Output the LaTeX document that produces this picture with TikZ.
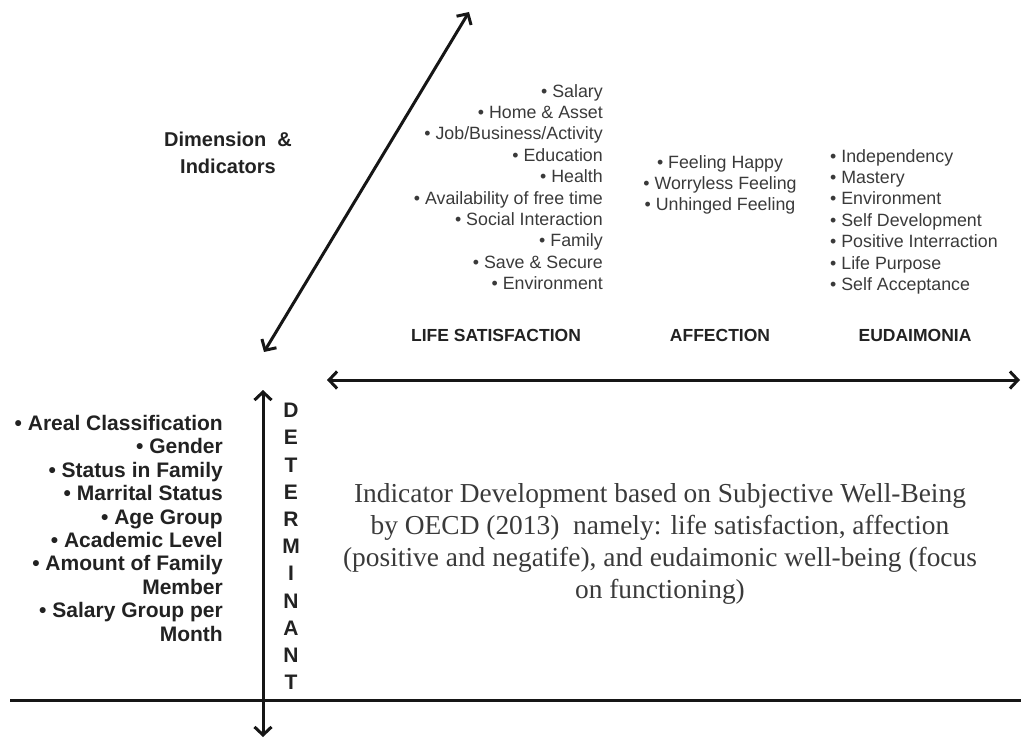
\documentclass[tikz,border=0pt]{standalone}
\usepackage{fontspec}
\setmainfont{Liberation Sans}
\newfontfamily\serifcap{Liberation Serif}
\usetikzlibrary{arrows.meta}
\definecolor{txt}{HTML}{3A3A3A}
\definecolor{bold}{HTML}{222222}
\definecolor{ink}{HTML}{161616}
\begin{document}
\begin{tikzpicture}[x=1pt,y=-1pt,
  axis/.style={draw=ink,line width=3pt,{Straight Barb[length=8pt,width=17pt]}-{Straight Barb[length=8pt,width=17pt]}},
  plainline/.style={draw=ink,line width=3pt},
  itemlist/.style={inner sep=0pt,text=txt,font=\fontsize{17.8}{21.4}\selectfont},
  boldlist/.style={inner sep=0pt,text=bold,font=\bfseries\fontsize{21}{23.4}\selectfont},
  heading/.style={inner sep=0pt,text=bold,font=\bfseries\fontsize{17.5}{20}\selectfont},
  bodytext/.style={inner sep=0pt,text=txt,align=center,font=\serifcap\fontsize{27.4}{32}\selectfont}]
\useasboundingbox (0,0) rectangle (1021,738);
% axis end points
\coordinate (dA) at (264,352);
\coordinate (dB) at (469,12);
\coordinate (hA) at (327,380);
\coordinate (hB) at (1020,380);
\coordinate (vA) at (263,390);
\coordinate (vB) at (263,737);
\coordinate (lA) at (10,700);
\coordinate (lB) at (1021,700);
\draw[axis] (dA) -- (dB);
\draw[axis] (hA) -- (hB);
\draw[axis] (vA) -- (vB);
\draw[plainline] (lA) -- (lB);
% labels
\node[inner sep=0pt,text=bold,font=\bfseries\fontsize{20}{27}\selectfont,align=center,anchor=north] (dim) at (228,132) {Dimension \ \&\\Indicators};
\node[itemlist,align=right,anchor=north east] (ls) at (603,84) {%
• Salary\\• Home \& Asset\\• Job/Business/Activity\\• Education\\• Health\\%
• Availability of free time\\• Social Interaction\\• Family\\• Save \& Secure\\• Environment};
\node[itemlist,align=center,anchor=north] (af) at (720,155) {%
• Feeling Happy\\• Worryless Feeling\\• Unhinged Feeling};
\node[itemlist,align=left,anchor=north west] (eu) at (830,149) {%
• Independency\\• Mastery\\• Environment\\• Self Development\\%
• Positive Interraction\\• Life Purpose\\• Self Acceptance};
\node[heading] (h1) at (496,335) {LIFE SATISFACTION};
\node[heading] (h2) at (720,335) {AFFECTION};
\node[heading] (h3) at (915,335) {EUDAIMONIA};
\node[boldlist,align=right,anchor=north east] (det) at (223,415) {%
• Areal Classification\\• Gender\\• Status in Family\\• Marrital Status\\%
• Age Group\\• Academic Level\\• Amount of Family\\Member\\• Salary Group per\\Month};
\node[inner sep=0pt,text=bold,align=center,anchor=north,font=\bfseries\fontsize{21}{27.2}\selectfont] (word) at (291,403) {%
D\\E\\T\\E\\R\\M\\I\\N\\A\\N\\T};
\node[bodytext,anchor=north] (body) at (660,483) {%
Indicator Development based on Subjective Well-Being\\
by OECD (2013) \ namely: life satisfaction, affection\\
(positive and negatife), and eudaimonic well-being (focus\\
on functioning)};
\end{tikzpicture}
\end{document}
